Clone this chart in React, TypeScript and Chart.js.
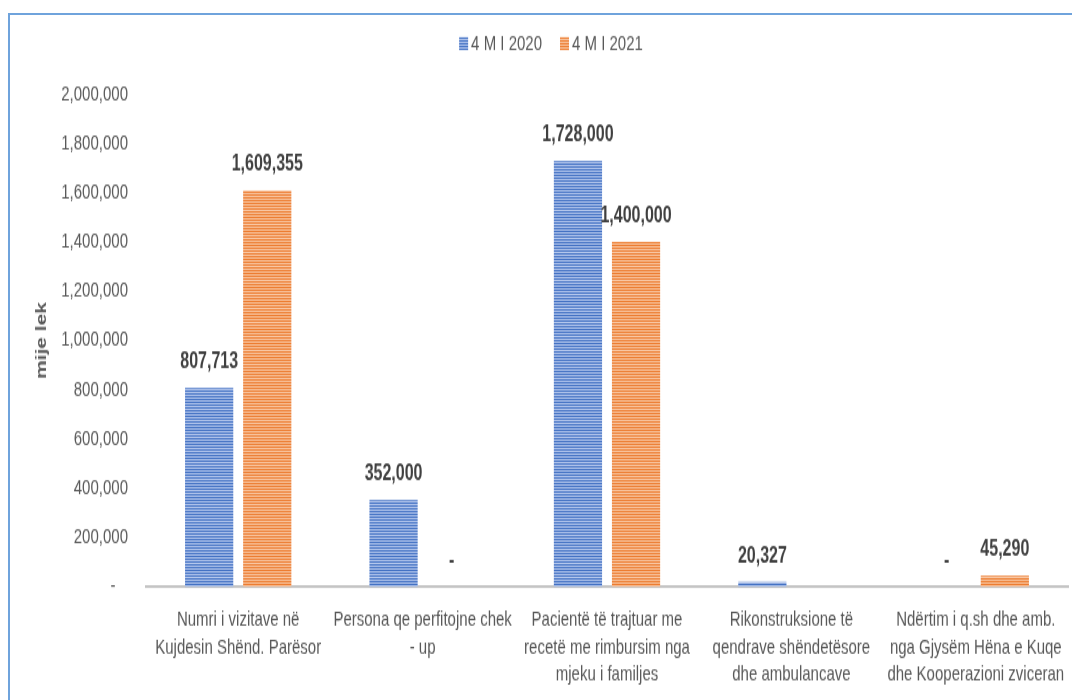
import React, { useEffect, useRef } from 'react';
import { Chart, registerables } from 'chart.js';

Chart.register(...registerables);

const categories: string[][] = [
  ['Numri i vizitave në', 'Kujdesin Shënd. Parësor'],
  ['Persona qe perfitojne chek', '- up'],
  ['Pacientë të trajtuar me', 'recetë me rimbursim nga', 'mjeku i familjes'],
  ['Rikonstruksione të', 'qendrave shëndetësore', 'dhe ambulancave'],
  ['Ndërtim i q.sh dhe amb.', 'nga Gjysëm Hëna e Kuqe', 'dhe Kooperazioni zviceran'],
];
const seriesNames = ['4 M I 2020', '4 M I 2021'];
const values2020: (number | null)[] = [807713, 352000, 1728000, 20327, 0];
const values2021: (number | null)[] = [1609355, 0, 1400000, null, 45290];
const yMin = 0;
const yMax = 2000000;
const yStep = 200000;
const yTitle = 'mije lek';

const FONT = "'Liberation Sans', Arial, sans-serif";
// The reference is stretched vertically; the chart is drawn on a shorter canvas and scaled up by CSS.
const CANVAS_W = 1062;
const DISPLAY_H = 685;
const STRETCH = 1.4;
const CANVAS_H = Math.round(DISPLAY_H / STRETCH);
const vy = (v: number) => v / STRETCH;

function makeStripe(dark: string, light: string): CanvasPattern | string {
  const c = document.createElement('canvas');
  c.width = 8;
  c.height = 2;
  const ctx = c.getContext('2d');
  if (!ctx) return dark;
  ctx.fillStyle = dark;
  ctx.fillRect(0, 0, 8, 2);
  ctx.fillStyle = light;
  ctx.fillRect(0, 1, 8, 1);
  return ctx.createPattern(c, 'repeat') || dark;
}

const fmt = (v: number) => (v === 0 ? '-' : v.toLocaleString('en-US'));

const dataLabels = {
  id: 'dataLabels',
  afterDatasetsDraw(chart: any) {
    const ctx = chart.ctx;
    ctx.save();
    ctx.font = `bold 16px ${FONT}`;
    ctx.fillStyle = '#404040';
    ctx.textAlign = 'center';
    ctx.textBaseline = 'middle';
    chart.data.datasets.forEach((ds: any, i: number) => {
      const meta = chart.getDatasetMeta(i);
      meta.data.forEach((el: any, j: number) => {
        const v = ds.data[j];
        if (v === null || v === undefined) return;
        ctx.fillText(fmt(v), el.x, el.y - vy(26));
      });
    });
    ctx.restore();
  },
};

const customLegend = {
  id: 'customLegend',
  afterDraw(chart: any) {
    const ctx = chart.ctx;
    ctx.save();
    ctx.font = `15px ${FONT}`;
    ctx.textBaseline = 'middle';
    ctx.textAlign = 'left';
    const boxW = 9;
    const boxH = vy(13);
    const gap = 3;
    const itemGap = 18;
    const items = chart.data.datasets.map((ds: any) => ({
      label: ds.label,
      fill: ds.backgroundColor,
      w: ctx.measureText(ds.label).width,
    }));
    const total = items.reduce((s: number, it: any) => s + boxW + gap + it.w, 0) + itemGap * (items.length - 1);
    let x = 541 - total / 2;
    items.forEach((it: any) => {
      ctx.fillStyle = it.fill;
      ctx.fillRect(x, vy(22), boxW, boxH);
      x += boxW + gap;
      ctx.fillStyle = '#595959';
      ctx.fillText(it.label, x, vy(29));
      x += it.w + itemGap;
    });
    ctx.restore();
  },
};

const yTitlePlugin = {
  id: 'yTitlePlugin',
  afterDraw(chart: any) {
    const ctx = chart.ctx;
    const area = chart.chartArea;
    ctx.save();
    ctx.translate(32, (area.top + area.bottom) / 2);
    ctx.rotate(-Math.PI / 2);
    ctx.font = `bold 15px ${FONT}`;
    ctx.fillStyle = '#595959';
    ctx.textAlign = 'center';
    ctx.textBaseline = 'middle';
    ctx.fillText(yTitle, 0, 0);
    ctx.restore();
  },
};

if (typeof document !== 'undefined') {
  document.documentElement.style.overflow = 'hidden';
}

export default function App() {
  const canvasRef = useRef<HTMLCanvasElement | null>(null);

  useEffect(() => {
    document.documentElement.style.overflow = 'hidden';
    document.body.style.overflow = 'hidden';
    const canvas = canvasRef.current;
    if (!canvas) return;
    const blue = makeStripe('#4472C4', '#B3C6EC');
    const orange = makeStripe('#ED7D31', '#F8C6A2');
    const chart = new Chart(canvas, {
      type: 'bar',
      data: {
        labels: categories,
        datasets: [
          {
            label: seriesNames[0],
            data: values2020,
            backgroundColor: blue as any,
            borderWidth: 0,
            categoryPercentage: 0.63,
            barPercentage: 0.83,
          },
          {
            label: seriesNames[1],
            data: values2021,
            backgroundColor: orange as any,
            borderWidth: 0,
            categoryPercentage: 0.63,
            barPercentage: 0.83,
          },
        ],
      },
      options: {
        animation: false,
        responsive: false,
        devicePixelRatio: 1,
        layout: { padding: { top: vy(79), left: 0, right: 4, bottom: 0 } },
        plugins: {
          legend: { display: false },
          tooltip: { enabled: false },
          title: { display: false },
        },
        scales: {
          x: {
            grid: { display: false, drawTicks: false },
            border: { display: true, color: '#C4C4C4', width: 2 },
            ticks: {
              color: '#595959',
              padding: vy(19.5),
              maxRotation: 0,
              autoSkip: false,
              font: { family: FONT, size: 15, lineHeight: vy(27.5) / 15 },
            },
            afterFit: (scale: any) => {
              scale.height = vy(113);
              scale.paddingLeft = 0;
              scale.paddingRight = 0;
            },
          },
          y: {
            min: yMin,
            max: yMax,
            grid: { display: false, drawTicks: false },
            border: { display: false },
            ticks: {
              stepSize: yStep,
              color: '#595959',
              padding: 18,
              font: { family: FONT, size: 15 },
              callback: (v: any) => (Number(v) === 0 ? '-   ' : fmt(Number(v))),
            },
            afterFit: (scale: any) => {
              scale.width = 136;
            },
          },
        },
      },
      plugins: [dataLabels, customLegend, yTitlePlugin],
    });
    return () => chart.destroy();
  }, []);

  return (
    <div
      style={{
        position: 'fixed',
        left: 8,
        top: 13,
        width: 1100,
        height: 700,
        borderTop: '2px solid #6FA3DC',
        borderLeft: '2px solid #6FA3DC',
      }}
    >
      <canvas
        ref={canvasRef}
        width={CANVAS_W}
        height={CANVAS_H}
        style={{ width: CANVAS_W, height: DISPLAY_H, display: 'block' }}
      />
    </div>
  );
}
